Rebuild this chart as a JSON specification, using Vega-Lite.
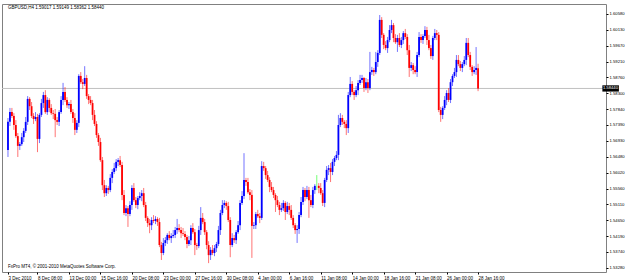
{
"$schema": "https://vega.github.io/schema/vega-lite/v6.json",
"width": 604, "height": 268,
"autosize": {"type": "none"},
"padding": {"left": 2, "top": 4, "right": 19, "bottom": 8},
"background": "white",
"config": {"view": {"stroke": "#808080", "strokeWidth": 1}, "font": "Liberation Sans",
 "axis": {"labelOverlap": false, "labelBound": false, "labelFlush": false, "grid": false, "domain": false, "title": null}},
"resolve": {"axis": {"x": "independent", "y": "independent"}},
"data": {"values": [
{"i":0,"o":1.5667,"h":1.5759,"l":1.5647,"c":1.5748},
{"i":1,"o":1.5748,"h":1.5788,"l":1.5736,"c":1.5776},
{"i":2,"o":1.5776,"h":1.5788,"l":1.5759,"c":1.5765},
{"i":3,"o":1.5765,"h":1.5773,"l":1.5725,"c":1.5739},
{"i":4,"o":1.5739,"h":1.5753,"l":1.5702,"c":1.5707},
{"i":5,"o":1.5707,"h":1.5716,"l":1.5647,"c":1.5679},
{"i":6,"o":1.5679,"h":1.5690,"l":1.5667,"c":1.5684},
{"i":7,"o":1.5684,"h":1.5716,"l":1.5679,"c":1.5704},
{"i":8,"o":1.5704,"h":1.5730,"l":1.5690,"c":1.5722},
{"i":9,"o":1.5722,"h":1.5762,"l":1.5716,"c":1.5748},
{"i":10,"o":1.5748,"h":1.5822,"l":1.5739,"c":1.5814},
{"i":11,"o":1.5814,"h":1.5819,"l":1.5782,"c":1.5793},
{"i":12,"o":1.5793,"h":1.5805,"l":1.5759,"c":1.5765},
{"i":13,"o":1.5765,"h":1.5773,"l":1.5742,"c":1.5756},
{"i":14,"o":1.5756,"h":1.5776,"l":1.5750,"c":1.5762},
{"i":15,"o":1.5762,"h":1.5771,"l":1.5661,"c":1.5699},
{"i":16,"o":1.5699,"h":1.5773,"l":1.5687,"c":1.5768},
{"i":17,"o":1.5768,"h":1.5814,"l":1.5762,"c":1.5802},
{"i":18,"o":1.5802,"h":1.5834,"l":1.5788,"c":1.5825},
{"i":19,"o":1.5825,"h":1.5839,"l":1.5771,"c":1.5776},
{"i":20,"o":1.5776,"h":1.5819,"l":1.5768,"c":1.5811},
{"i":21,"o":1.5811,"h":1.5816,"l":1.5776,"c":1.5788},
{"i":22,"o":1.5788,"h":1.5799,"l":1.5768,"c":1.5773},
{"i":23,"o":1.5773,"h":1.5782,"l":1.5756,"c":1.5771},
{"i":24,"o":1.5771,"h":1.5785,"l":1.5704,"c":1.5753},
{"i":25,"o":1.5753,"h":1.5762,"l":1.5739,"c":1.5748},
{"i":26,"o":1.5748,"h":1.5782,"l":1.5736,"c":1.5776},
{"i":27,"o":1.5776,"h":1.5822,"l":1.5771,"c":1.5811},
{"i":28,"o":1.5811,"h":1.5860,"l":1.5796,"c":1.5834},
{"i":29,"o":1.5834,"h":1.5848,"l":1.5805,"c":1.5811},
{"i":30,"o":1.5811,"h":1.5819,"l":1.5788,"c":1.5796},
{"i":31,"o":1.5796,"h":1.5805,"l":1.5785,"c":1.5799},
{"i":32,"o":1.5799,"h":1.5811,"l":1.5771,"c":1.5776},
{"i":33,"o":1.5776,"h":1.5785,"l":1.5745,"c":1.5759},
{"i":34,"o":1.5759,"h":1.5773,"l":1.5710,"c":1.5725},
{"i":35,"o":1.5725,"h":1.5753,"l":1.5716,"c":1.5745},
{"i":36,"o":1.5745,"h":1.5885,"l":1.5733,"c":1.5880},
{"i":37,"o":1.5880,"h":1.5891,"l":1.5857,"c":1.5862},
{"i":38,"o":1.5862,"h":1.5871,"l":1.5842,"c":1.5857},
{"i":39,"o":1.5857,"h":1.5908,"l":1.5851,"c":1.5874},
{"i":40,"o":1.5874,"h":1.5883,"l":1.5814,"c":1.5822},
{"i":41,"o":1.5822,"h":1.5828,"l":1.5799,"c":1.5811},
{"i":42,"o":1.5811,"h":1.5822,"l":1.5796,"c":1.5802},
{"i":43,"o":1.5802,"h":1.5811,"l":1.5753,"c":1.5768},
{"i":44,"o":1.5768,"h":1.5782,"l":1.5736,"c":1.5742},
{"i":45,"o":1.5742,"h":1.5750,"l":1.5702,"c":1.5710},
{"i":46,"o":1.5710,"h":1.5716,"l":1.5679,"c":1.5690},
{"i":47,"o":1.5690,"h":1.5702,"l":1.5633,"c":1.5638},
{"i":48,"o":1.5638,"h":1.5647,"l":1.5552,"c":1.5566},
{"i":49,"o":1.5566,"h":1.5581,"l":1.5532,"c":1.5543},
{"i":50,"o":1.5543,"h":1.5566,"l":1.5535,"c":1.5558},
{"i":51,"o":1.5558,"h":1.5564,"l":1.5541,"c":1.5552},
{"i":52,"o":1.5552,"h":1.5598,"l":1.5546,"c":1.5587},
{"i":53,"o":1.5587,"h":1.5612,"l":1.5572,"c":1.5604},
{"i":54,"o":1.5604,"h":1.5630,"l":1.5598,"c":1.5615},
{"i":55,"o":1.5615,"h":1.5641,"l":1.5607,"c":1.5633},
{"i":56,"o":1.5633,"h":1.5644,"l":1.5621,"c":1.5638},
{"i":57,"o":1.5638,"h":1.5650,"l":1.5618,"c":1.5624},
{"i":58,"o":1.5624,"h":1.5633,"l":1.5523,"c":1.5538},
{"i":59,"o":1.5538,"h":1.5552,"l":1.5480,"c":1.5486},
{"i":60,"o":1.5486,"h":1.5509,"l":1.5477,"c":1.5500},
{"i":61,"o":1.5500,"h":1.5506,"l":1.5446,"c":1.5483},
{"i":62,"o":1.5483,"h":1.5520,"l":1.5477,"c":1.5509},
{"i":63,"o":1.5509,"h":1.5566,"l":1.5495,"c":1.5558},
{"i":64,"o":1.5558,"h":1.5572,"l":1.5518,"c":1.5523},
{"i":65,"o":1.5523,"h":1.5532,"l":1.5500,"c":1.5509},
{"i":66,"o":1.5509,"h":1.5535,"l":1.5497,"c":1.5529},
{"i":67,"o":1.5529,"h":1.5546,"l":1.5523,"c":1.5535},
{"i":68,"o":1.5535,"h":1.5552,"l":1.5520,"c":1.5543},
{"i":69,"o":1.5543,"h":1.5558,"l":1.5503,"c":1.5509},
{"i":70,"o":1.5509,"h":1.5518,"l":1.5463,"c":1.5472},
{"i":71,"o":1.5472,"h":1.5477,"l":1.5446,"c":1.5457},
{"i":72,"o":1.5457,"h":1.5469,"l":1.5428,"c":1.5451},
{"i":73,"o":1.5451,"h":1.5474,"l":1.5437,"c":1.5466},
{"i":74,"o":1.5466,"h":1.5480,"l":1.5457,"c":1.5463},
{"i":75,"o":1.5463,"h":1.5477,"l":1.5454,"c":1.5469},
{"i":76,"o":1.5469,"h":1.5474,"l":1.5449,"c":1.5460},
{"i":77,"o":1.5460,"h":1.5472,"l":1.5388,"c":1.5394},
{"i":78,"o":1.5394,"h":1.5403,"l":1.5351,"c":1.5371},
{"i":79,"o":1.5371,"h":1.5414,"l":1.5365,"c":1.5400},
{"i":80,"o":1.5400,"h":1.5417,"l":1.5391,"c":1.5408},
{"i":81,"o":1.5408,"h":1.5428,"l":1.5397,"c":1.5423},
{"i":82,"o":1.5423,"h":1.5434,"l":1.5408,"c":1.5414},
{"i":83,"o":1.5414,"h":1.5428,"l":1.5400,"c":1.5420},
{"i":84,"o":1.5420,"h":1.5437,"l":1.5414,"c":1.5423},
{"i":85,"o":1.5423,"h":1.5446,"l":1.5414,"c":1.5437},
{"i":86,"o":1.5437,"h":1.5469,"l":1.5426,"c":1.5443},
{"i":87,"o":1.5443,"h":1.5454,"l":1.5431,"c":1.5437},
{"i":88,"o":1.5437,"h":1.5446,"l":1.5414,"c":1.5428},
{"i":89,"o":1.5428,"h":1.5443,"l":1.5420,"c":1.5426},
{"i":90,"o":1.5426,"h":1.5434,"l":1.5408,"c":1.5417},
{"i":91,"o":1.5417,"h":1.5423,"l":1.5385,"c":1.5397},
{"i":92,"o":1.5397,"h":1.5420,"l":1.5391,"c":1.5408},
{"i":93,"o":1.5408,"h":1.5451,"l":1.5394,"c":1.5443},
{"i":94,"o":1.5443,"h":1.5457,"l":1.5426,"c":1.5431},
{"i":95,"o":1.5431,"h":1.5440,"l":1.5365,"c":1.5394},
{"i":96,"o":1.5394,"h":1.5400,"l":1.5380,"c":1.5391},
{"i":97,"o":1.5391,"h":1.5449,"l":1.5385,"c":1.5437},
{"i":98,"o":1.5437,"h":1.5503,"l":1.5423,"c":1.5472},
{"i":99,"o":1.5472,"h":1.5486,"l":1.5454,"c":1.5460},
{"i":100,"o":1.5460,"h":1.5469,"l":1.5423,"c":1.5431},
{"i":101,"o":1.5431,"h":1.5437,"l":1.5382,"c":1.5394},
{"i":102,"o":1.5394,"h":1.5405,"l":1.5342,"c":1.5365},
{"i":103,"o":1.5365,"h":1.5388,"l":1.5351,"c":1.5380},
{"i":104,"o":1.5380,"h":1.5394,"l":1.5365,"c":1.5371},
{"i":105,"o":1.5371,"h":1.5394,"l":1.5362,"c":1.5385},
{"i":106,"o":1.5385,"h":1.5403,"l":1.5374,"c":1.5397},
{"i":107,"o":1.5397,"h":1.5449,"l":1.5391,"c":1.5437},
{"i":108,"o":1.5437,"h":1.5495,"l":1.5423,"c":1.5486},
{"i":109,"o":1.5486,"h":1.5523,"l":1.5480,"c":1.5509},
{"i":110,"o":1.5509,"h":1.5523,"l":1.5500,"c":1.5515},
{"i":111,"o":1.5515,"h":1.5520,"l":1.5495,"c":1.5506},
{"i":112,"o":1.5506,"h":1.5518,"l":1.5460,"c":1.5466},
{"i":113,"o":1.5466,"h":1.5474,"l":1.5359,"c":1.5394},
{"i":114,"o":1.5394,"h":1.5428,"l":1.5388,"c":1.5414},
{"i":115,"o":1.5414,"h":1.5423,"l":1.5400,"c":1.5408},
{"i":116,"o":1.5408,"h":1.5437,"l":1.5397,"c":1.5431},
{"i":117,"o":1.5431,"h":1.5463,"l":1.5426,"c":1.5451},
{"i":118,"o":1.5451,"h":1.5523,"l":1.5437,"c":1.5515},
{"i":119,"o":1.5515,"h":1.5549,"l":1.5509,"c":1.5535},
{"i":120,"o":1.5535,"h":1.5658,"l":1.5526,"c":1.5581},
{"i":121,"o":1.5581,"h":1.5587,"l":1.5564,"c":1.5575},
{"i":122,"o":1.5575,"h":1.5587,"l":1.5541,"c":1.5546},
{"i":123,"o":1.5546,"h":1.5555,"l":1.5523,"c":1.5538},
{"i":124,"o":1.5538,"h":1.5552,"l":1.5357,"c":1.5449},
{"i":125,"o":1.5449,"h":1.5460,"l":1.5440,"c":1.5451},
{"i":126,"o":1.5451,"h":1.5489,"l":1.5440,"c":1.5483},
{"i":127,"o":1.5483,"h":1.5495,"l":1.5472,"c":1.5477},
{"i":128,"o":1.5477,"h":1.5486,"l":1.5457,"c":1.5472},
{"i":129,"o":1.5472,"h":1.5635,"l":1.5466,"c":1.5621},
{"i":130,"o":1.5621,"h":1.5633,"l":1.5607,"c":1.5615},
{"i":131,"o":1.5615,"h":1.5621,"l":1.5584,"c":1.5595},
{"i":132,"o":1.5595,"h":1.5607,"l":1.5575,"c":1.5581},
{"i":133,"o":1.5581,"h":1.5589,"l":1.5546,"c":1.5561},
{"i":134,"o":1.5561,"h":1.5575,"l":1.5546,"c":1.5552},
{"i":135,"o":1.5552,"h":1.5561,"l":1.5529,"c":1.5538},
{"i":136,"o":1.5538,"h":1.5543,"l":1.5489,"c":1.5523},
{"i":137,"o":1.5523,"h":1.5535,"l":1.5503,"c":1.5509},
{"i":138,"o":1.5509,"h":1.5518,"l":1.5480,"c":1.5495},
{"i":139,"o":1.5495,"h":1.5515,"l":1.5489,"c":1.5500},
{"i":140,"o":1.5500,"h":1.5523,"l":1.5492,"c":1.5515},
{"i":141,"o":1.5515,"h":1.5520,"l":1.5466,"c":1.5489},
{"i":142,"o":1.5489,"h":1.5518,"l":1.5483,"c":1.5506},
{"i":143,"o":1.5506,"h":1.5515,"l":1.5480,"c":1.5495},
{"i":144,"o":1.5495,"h":1.5509,"l":1.5466,"c":1.5472},
{"i":145,"o":1.5472,"h":1.5480,"l":1.5443,"c":1.5451},
{"i":146,"o":1.5451,"h":1.5457,"l":1.5426,"c":1.5437},
{"i":147,"o":1.5437,"h":1.5451,"l":1.5400,"c":1.5440},
{"i":148,"o":1.5440,"h":1.5489,"l":1.5426,"c":1.5480},
{"i":149,"o":1.5480,"h":1.5532,"l":1.5474,"c":1.5518},
{"i":150,"o":1.5518,"h":1.5561,"l":1.5509,"c":1.5552},
{"i":151,"o":1.5552,"h":1.5558,"l":1.5520,"c":1.5532},
{"i":152,"o":1.5532,"h":1.5564,"l":1.5526,"c":1.5552},
{"i":153,"o":1.5552,"h":1.5561,"l":1.5472,"c":1.5523},
{"i":154,"o":1.5523,"h":1.5538,"l":1.5503,"c":1.5509},
{"i":155,"o":1.5509,"h":1.5561,"l":1.5500,"c":1.5552},
{"i":156,"o":1.5552,"h":1.5569,"l":1.5541,"c":1.5564},
{"i":157,"o":1.5564,"h":1.5595,"l":1.5552,"c":1.5564},
{"i":158,"o":1.5564,"h":1.5572,"l":1.5543,"c":1.5558},
{"i":159,"o":1.5558,"h":1.5572,"l":1.5538,"c":1.5543},
{"i":160,"o":1.5543,"h":1.5552,"l":1.5506,"c":1.5515},
{"i":161,"o":1.5515,"h":1.5587,"l":1.5503,"c":1.5581},
{"i":162,"o":1.5581,"h":1.5621,"l":1.5575,"c":1.5610},
{"i":163,"o":1.5610,"h":1.5624,"l":1.5595,"c":1.5615},
{"i":164,"o":1.5615,"h":1.5630,"l":1.5575,"c":1.5604},
{"i":165,"o":1.5604,"h":1.5641,"l":1.5595,"c":1.5633},
{"i":166,"o":1.5633,"h":1.5650,"l":1.5621,"c":1.5644},
{"i":167,"o":1.5644,"h":1.5664,"l":1.5638,"c":1.5653},
{"i":168,"o":1.5653,"h":1.5768,"l":1.5638,"c":1.5739},
{"i":169,"o":1.5739,"h":1.5773,"l":1.5733,"c":1.5759},
{"i":170,"o":1.5759,"h":1.5768,"l":1.5739,"c":1.5748},
{"i":171,"o":1.5748,"h":1.5753,"l":1.5730,"c":1.5742},
{"i":172,"o":1.5742,"h":1.5753,"l":1.5710,"c":1.5730},
{"i":173,"o":1.5730,"h":1.5834,"l":1.5716,"c":1.5825},
{"i":174,"o":1.5825,"h":1.5877,"l":1.5819,"c":1.5857},
{"i":175,"o":1.5857,"h":1.5865,"l":1.5825,"c":1.5834},
{"i":176,"o":1.5834,"h":1.5839,"l":1.5811,"c":1.5825},
{"i":177,"o":1.5825,"h":1.5851,"l":1.5819,"c":1.5839},
{"i":178,"o":1.5839,"h":1.5868,"l":1.5825,"c":1.5860},
{"i":179,"o":1.5860,"h":1.5883,"l":1.5854,"c":1.5868},
{"i":180,"o":1.5868,"h":1.5883,"l":1.5860,"c":1.5874},
{"i":181,"o":1.5874,"h":1.5877,"l":1.5834,"c":1.5845},
{"i":182,"o":1.5845,"h":1.5874,"l":1.5839,"c":1.5862},
{"i":183,"o":1.5862,"h":1.5871,"l":1.5831,"c":1.5845},
{"i":184,"o":1.5845,"h":1.5949,"l":1.5839,"c":1.5891},
{"i":185,"o":1.5891,"h":1.5906,"l":1.5883,"c":1.5897},
{"i":186,"o":1.5897,"h":1.5903,"l":1.5880,"c":1.5891},
{"i":187,"o":1.5891,"h":1.5949,"l":1.5885,"c":1.5920},
{"i":188,"o":1.5920,"h":1.5954,"l":1.5906,"c":1.5946},
{"i":189,"o":1.5946,"h":1.6055,"l":1.5940,"c":1.6041},
{"i":190,"o":1.6041,"h":1.6049,"l":1.5989,"c":1.5998},
{"i":191,"o":1.5998,"h":1.6003,"l":1.5957,"c":1.5969},
{"i":192,"o":1.5969,"h":1.5980,"l":1.5954,"c":1.5960},
{"i":193,"o":1.5960,"h":1.5992,"l":1.5946,"c":1.5983},
{"i":194,"o":1.5983,"h":1.6026,"l":1.5977,"c":1.6012},
{"i":195,"o":1.6012,"h":1.6041,"l":1.6003,"c":1.6026},
{"i":196,"o":1.6026,"h":1.6032,"l":1.5977,"c":1.5989},
{"i":197,"o":1.5989,"h":1.6000,"l":1.5972,"c":1.5977},
{"i":198,"o":1.5977,"h":1.5998,"l":1.5949,"c":1.5989},
{"i":199,"o":1.5989,"h":1.6003,"l":1.5963,"c":1.5969},
{"i":200,"o":1.5969,"h":1.5992,"l":1.5960,"c":1.5983},
{"i":201,"o":1.5983,"h":1.6009,"l":1.5972,"c":1.6003},
{"i":202,"o":1.6003,"h":1.6015,"l":1.5986,"c":1.5992},
{"i":203,"o":1.5992,"h":1.6000,"l":1.5940,"c":1.5954},
{"i":204,"o":1.5954,"h":1.5969,"l":1.5877,"c":1.5903},
{"i":205,"o":1.5903,"h":1.5920,"l":1.5894,"c":1.5911},
{"i":206,"o":1.5911,"h":1.5917,"l":1.5885,"c":1.5897},
{"i":207,"o":1.5897,"h":1.5908,"l":1.5885,"c":1.5891},
{"i":208,"o":1.5891,"h":1.5949,"l":1.5877,"c":1.5940},
{"i":209,"o":1.5940,"h":1.6006,"l":1.5934,"c":1.5992},
{"i":210,"o":1.5992,"h":1.6000,"l":1.5975,"c":1.5983},
{"i":211,"o":1.5983,"h":1.6000,"l":1.5972,"c":1.5995},
{"i":212,"o":1.5995,"h":1.6023,"l":1.5989,"c":1.6012},
{"i":213,"o":1.6012,"h":1.6021,"l":1.5969,"c":1.5983},
{"i":214,"o":1.5983,"h":1.5998,"l":1.5954,"c":1.5960},
{"i":215,"o":1.5960,"h":1.5969,"l":1.5929,"c":1.5937},
{"i":216,"o":1.5937,"h":1.5995,"l":1.5926,"c":1.5989},
{"i":217,"o":1.5989,"h":1.6015,"l":1.5983,"c":1.6003},
{"i":218,"o":1.6003,"h":1.6012,"l":1.5983,"c":1.5998},
{"i":219,"o":1.5998,"h":1.6006,"l":1.5776,"c":1.5782},
{"i":220,"o":1.5782,"h":1.5791,"l":1.5748,"c":1.5768},
{"i":221,"o":1.5768,"h":1.5793,"l":1.5756,"c":1.5788},
{"i":222,"o":1.5788,"h":1.5822,"l":1.5782,"c":1.5811},
{"i":223,"o":1.5811,"h":1.5839,"l":1.5796,"c":1.5831},
{"i":224,"o":1.5831,"h":1.5845,"l":1.5805,"c":1.5811},
{"i":225,"o":1.5811,"h":1.5871,"l":1.5802,"c":1.5862},
{"i":226,"o":1.5862,"h":1.5885,"l":1.5851,"c":1.5880},
{"i":227,"o":1.5880,"h":1.5903,"l":1.5874,"c":1.5891},
{"i":228,"o":1.5891,"h":1.5940,"l":1.5877,"c":1.5926},
{"i":229,"o":1.5926,"h":1.5940,"l":1.5908,"c":1.5914},
{"i":230,"o":1.5914,"h":1.5923,"l":1.5894,"c":1.5903},
{"i":231,"o":1.5903,"h":1.5920,"l":1.5891,"c":1.5914},
{"i":232,"o":1.5914,"h":1.5937,"l":1.5908,"c":1.5926},
{"i":233,"o":1.5926,"h":1.5989,"l":1.5911,"c":1.5975},
{"i":234,"o":1.5975,"h":1.5989,"l":1.5934,"c":1.5940},
{"i":235,"o":1.5940,"h":1.5949,"l":1.5897,"c":1.5906},
{"i":236,"o":1.5906,"h":1.5911,"l":1.5880,"c":1.5891},
{"i":237,"o":1.5891,"h":1.5908,"l":1.5885,"c":1.5897},
{"i":238,"o":1.5897,"h":1.5963,"l":1.5883,"c":1.5903},
{"i":239,"o":1.59017,"h":1.59149,"l":1.58362,"c":1.58440}
]},
"layer": [
{"data": {"values": [{}]}, "mark": {"type": "rule", "color": "#c0c0c0", "strokeWidth": 1},
 "encoding": {"y": {"datum": 1.5844, "type": "quantitative", "axis": null}}},
{"mark": {"type": "rule", "strokeWidth": 1, "opacity": 0.55},
 "encoding": {
  "x": {"field": "i", "type": "quantitative", "scale": {"domain": [-0.5, 301.5], "nice": false, "zero": false},
   "axis": {"values": [0,15,31,47,63,79,95,111,127,143,159,175,191,207,223,239],
    "labelExpr": "['3 Dec 2010','8 Dec 08:00','13 Dec 00:00','15 Dec 16:00','20 Dec 08:00','23 Dec 00:00','27 Dec 16:00','30 Dec 08:00','4 Jan 00:00','6 Jan 16:00','11 Jan 08:00','14 Jan 00:00','18 Jan 16:00','21 Jan 08:00','26 Jan 00:00','28 Jan 16:00'][indexof([0,15,31,47,63,79,95,111,127,143,159,175,191,207,223,239], datum.value)]",
    "labelAlign": "left", "labelBaseline": "top", "labelPadding": 1, "tickSize": 2, "tickColor": "#000000",
    "domain": false, "grid": false, "title": null, "labelFontSize": 4.5, "labelFont": "Liberation Sans",
    "labelColor": "#000000", "labelOverlap": false, "labelBound": false, "labelFlush": false}},
  "y": {"field": "l", "type": "quantitative", "scale": {"domain": [1.53165, 1.60867], "nice": false, "zero": false},
   "axis": {"orient": "right", "values": [1.6058,1.6013,1.5967,1.5921,1.5876,1.583,1.5784,1.5739,1.5693,1.5648,1.5602,1.5556,1.5511,1.5465,1.5419,1.5374,1.5328],
    "format": ".5f", "tickSize": 2, "tickColor": "#000000", "labelPadding": 1, "labelFontSize": 4.2, "labelFont": "Liberation Sans",
    "labelColor": "#000000", "labelBaseline": "middle", "domain": false, "grid": false, "title": null,
    "labelOverlap": false, "labelBound": false, "labelFlush": false}},
  "y2": {"field": "h"},
  "color": {"condition": [{"test": "datum.c == datum.o", "value": "#00ff00"}, {"test": "datum.c > datum.o", "value": "#0000ff"}], "value": "#ff0000"}
 }},
{"mark": {"type": "bar", "size": 1.8},
 "encoding": {
  "x": {"field": "i", "type": "quantitative", "axis": null},
  "y": {"field": "o", "type": "quantitative", "axis": null},
  "y2": {"field": "c"},
  "color": {"condition": [{"test": "datum.c == datum.o", "value": "#00ff00"}, {"test": "datum.c > datum.o", "value": "#0000ff"}], "value": "#ff0000"}
 }},
{"data": {"values": [{}]}, "mark": {"type": "rect", "color": "#000000"},
 "encoding": {"x": {"datum": 302.2, "type": "quantitative", "axis": null}, "x2": {"datum": 310.6},
  "y": {"datum": 1.5853, "type": "quantitative", "axis": null}, "y2": {"datum": 1.5835}}},
{"data": {"values": [{}]}, "mark": {"type": "text", "color": "#ffffff", "fontSize": 4.2, "font": "Liberation Sans", "align": "center", "baseline": "middle"},
 "encoding": {"x": {"datum": 306.3, "type": "quantitative", "axis": null}, "y": {"datum": 1.5844, "type": "quantitative", "axis": null}, "text": {"value": "1.58440"}}},
{"data": {"values": [{}]}, "mark": {"type": "text", "color": "#000000", "fontSize": 4.5, "font": "Liberation Sans", "align": "left", "baseline": "top", "dx": 1, "dy": 1},
 "encoding": {"x": {"datum": -0.5, "type": "quantitative", "axis": null}, "y": {"datum": 1.60867, "type": "quantitative", "axis": null}, "text": {"value": "GBPUSD,H4  1.59017 1.59149 1.58362 1.58440"}}},
{"data": {"values": [{}]}, "mark": {"type": "text", "color": "#000000", "fontSize": 4.5, "font": "Liberation Sans", "align": "left", "baseline": "bottom", "dx": 1, "dy": -3},
 "encoding": {"x": {"datum": -0.5, "type": "quantitative", "axis": null}, "y": {"datum": 1.53165, "type": "quantitative", "axis": null}, "text": {"value": "FxPro MT4, © 2001-2010 MetaQuotes Software Corp."}}}
]
}
